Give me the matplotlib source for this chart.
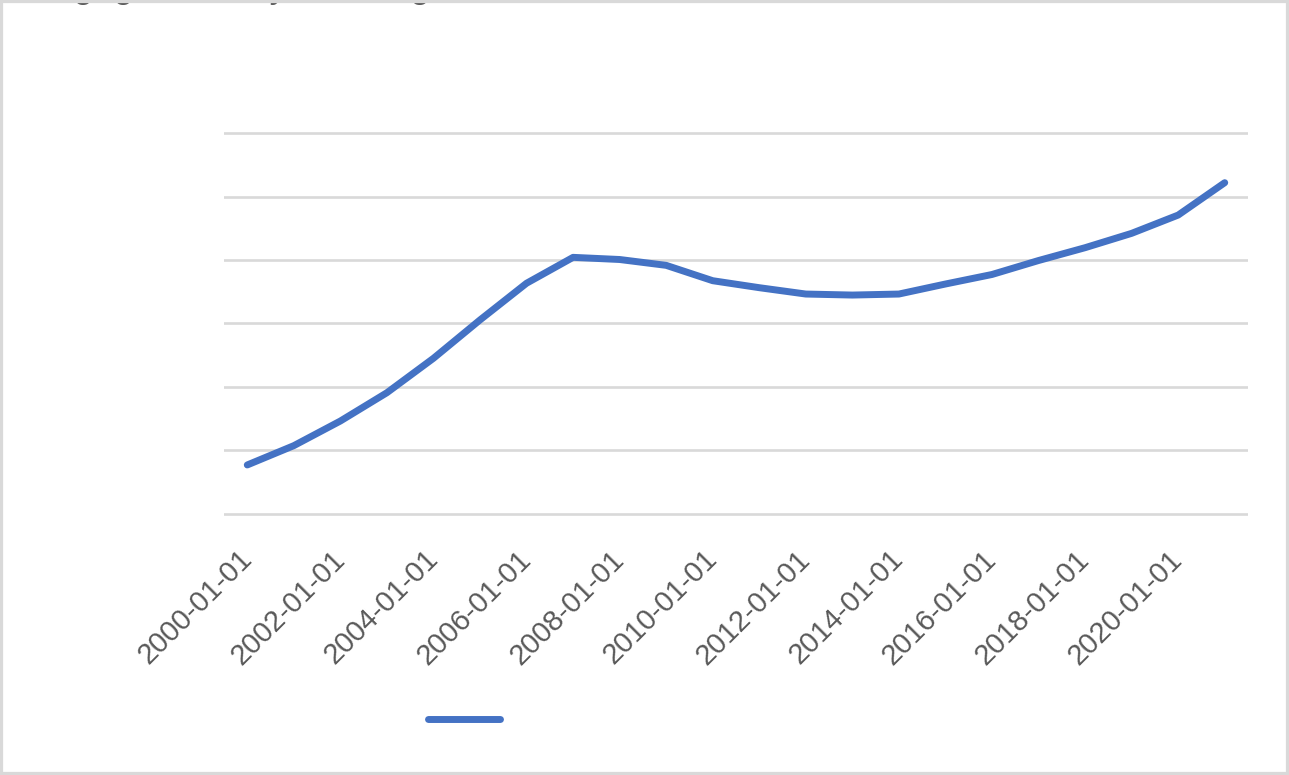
import matplotlib
matplotlib.use("Agg")
import matplotlib.pyplot as plt
from matplotlib.patches import Rectangle

# yearly values (gridline step = 50)
dates = ["2000-01-01", "2001-01-01", "2002-01-01", "2003-01-01", "2004-01-01",
         "2005-01-01", "2006-01-01", "2007-01-01", "2008-01-01", "2009-01-01",
         "2010-01-01", "2011-01-01", "2012-01-01", "2013-01-01", "2014-01-01",
         "2015-01-01", "2016-01-01", "2017-01-01", "2018-01-01", "2019-01-01",
         "2020-01-01", "2021-01-01"]
values = [38.6, 53.8, 73.2, 95.5, 122.6, 152.8, 181.7, 202.1, 200.4, 195.8,
          183.7, 178.2, 173.2, 172.4, 173.2, 181.1, 188.6, 199.6, 209.7, 221.0,
          235.4, 260.9]
title = "Mortgage Debt by Housing Market"

W, H = 1289, 775
fig = plt.figure(figsize=(W / 100, H / 100), dpi=100)
# a little slack above/below so the outer gridlines are not clipped
ax = fig.add_axes([224 / W, 1 - 516 / H, (1248 - 224) / W, (516 - 131) / H])

x = list(range(len(dates)))
line, = ax.plot(x, values, color="#4472C4", lw=5, solid_capstyle="round",
                solid_joinstyle="round", zorder=3)

ax.set_xlim(-0.5, len(dates) - 0.5)
ax.set_ylim(-1.6, 301.6)
ax.set_yticks(range(0, 301, 50))
ax.yaxis.grid(True, color="#d9d9d9", lw=1.9)
ax.set_axisbelow(True)
ax.tick_params(axis="y", length=0, labelleft=False)
for s in ax.spines.values():
    s.set_visible(False)

ax.set_xticks(x[::2])
ax.set_xticklabels(dates[::2])
ax.tick_params(axis="x", length=0, pad=28, labelsize=21, labelcolor="#595959")
plt.setp(ax.get_xticklabels(), rotation=45, ha="right", va="center",
         rotation_mode="anchor", family="Liberation Sans")

# title sits above the top edge, only the descenders show (as in the original)
fig.text(1 / W, 1 + 3 / H, title, ha="left", va="baseline", fontsize=26,
         color="#595959", family="Liberation Sans")

fig.legend([line], [""], loc="center", bbox_to_anchor=(464 / W, 1 - 720 / H),
           frameon=False, handlelength=3.7, handletextpad=0, borderpad=0,
           fontsize=14)

fig.patches.append(Rectangle((0, 0), 1, 1, transform=fig.transFigure,
                             fill=False, edgecolor="#d9d9d9", lw=4.5,
                             figure=fig, zorder=10))

fig.savefig("out.png", dpi=100)
